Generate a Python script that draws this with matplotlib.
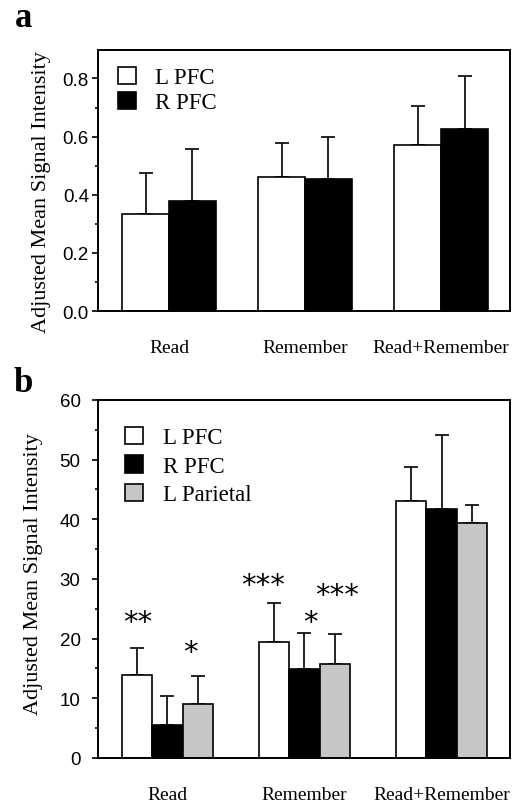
import matplotlib
matplotlib.use("Agg")
import matplotlib.pyplot as plt
import numpy as np
from matplotlib.ticker import MultipleLocator

# panel a
groups = ["Read", "Remember", "Read+Remember"]
a_labels = ["L PFC", "R PFC"]
a_means = [[0.335, 0.46, 0.571], [0.377, 0.454, 0.626]]
a_tops = [[0.475, 0.578, 0.706], [0.558, 0.60, 0.81]]

# panel b
b_labels = ["L PFC", "R PFC", "L Parietal"]
b_means = [[13.9, 19.5, 43.0], [5.6, 14.9, 41.8], [9.0, 15.8, 39.4]]
b_tops = [[18.5, 25.9, 48.8], [10.4, 21.0, 54.1], [13.8, 20.7, 42.4]]
stars = ["**", "*", "***", "*", "***"]
star_x = [-0.215, 0.17, 0.7, 1.04, 1.24]
star_y = [21.4, 16.5, 27.7, 21.4, 25.9]

serif = "Liberation Serif"
sans = "Liberation Sans"
colors_a = ["white", "black"]
colors_b = ["white", "black", "#c6c6c6"]

fig = plt.figure(figsize=(5.18, 8.04), dpi=100)
axa = fig.add_axes([0.1892, 0.6119, 0.7954, 0.3247])
axb = fig.add_axes([0.1892, 0.0560, 0.7954, 0.4453])

x = np.arange(len(groups))

# ---- a ----
w = 0.345
for i in range(2):
    pos = x + (i - 0.5) * w
    m = np.array(a_means[i])
    e = np.array(a_tops[i]) - m
    axa.bar(pos, m, w, color=colors_a[i], edgecolor="black", linewidth=1.2,
            label=a_labels[i], zorder=2)
    axa.errorbar(pos, m, yerr=[np.zeros_like(e), e], fmt="none", ecolor="black",
                 elinewidth=1.2, capsize=5, capthick=1.2, zorder=1)
axa.set_xlim(-0.522, 2.507)
axa.set_ylim(0, 0.898)
axa.yaxis.set_major_locator(MultipleLocator(0.2))
axa.yaxis.set_minor_locator(MultipleLocator(0.1))
axa.yaxis.set_major_formatter(matplotlib.ticker.FormatStrFormatter("%.1f"))
axa.set_yticks([0, 0.2, 0.4, 0.6, 0.8])
axa.set_xticks(x)
axa.set_xticklabels(groups, fontfamily=serif, fontsize=14)
axa.tick_params(axis="x", length=0, pad=20)
axa.tick_params(axis="y", which="major", length=4.5, width=1.2, pad=2, labelsize=13.5)
axa.tick_params(axis="y", which="minor", length=2.5, width=1.2)
for lab in axa.get_yticklabels():
    lab.set_fontfamily(sans)
axa.set_ylabel("Adjusted Mean Signal Intensity", fontfamily=serif, fontsize=16)
axa.yaxis.set_label_coords(-0.114, 0.46)
axa.legend(loc="upper left", bbox_to_anchor=(0.0485, 0.935), frameon=False,
           prop={"family": serif, "size": 16.5}, borderpad=0, borderaxespad=0,
           handlelength=0.78, handleheight=0.75, handletextpad=0.85,
           labelspacing=0.15)

# ---- b ----
w = 0.22
for i in range(3):
    pos = x + (i - 1) * w
    m = np.array(b_means[i])
    e = np.array(b_tops[i]) - m
    axb.bar(pos, m, w, color=colors_b[i], edgecolor="black", linewidth=1.2,
            label=b_labels[i], zorder=2)
    axb.errorbar(pos, m, yerr=[np.zeros_like(e), e], fmt="none", ecolor="black",
                 elinewidth=1.2, capsize=5, capthick=1.2, zorder=1)
for s, sx, sy in zip(stars, star_x, star_y):
    axb.text(sx, sy, s, ha="center", va="baseline", fontsize=21,
             fontfamily="DejaVu Sans")
axb.set_xlim(-0.507, 2.5)
axb.set_ylim(0, 60)
axb.yaxis.set_major_locator(MultipleLocator(10))
axb.yaxis.set_minor_locator(MultipleLocator(5))
axb.set_xticks(x)
axb.set_xticklabels(groups, fontfamily=serif, fontsize=14)
axb.tick_params(axis="x", length=0, pad=20)
axb.tick_params(axis="y", which="major", length=4.5, width=1.2, pad=8, labelsize=13.5)
axb.tick_params(axis="y", which="minor", length=2.5, width=1.2)
for lab in axb.get_yticklabels():
    lab.set_fontfamily(sans)
axb.set_ylabel("Adjusted Mean Signal Intensity", fontfamily=serif, fontsize=16)
axb.yaxis.set_label_coords(-0.133, 0.517)
axb.legend(loc="upper left", bbox_to_anchor=(0.0655, 0.925), frameon=False,
           prop={"family": serif, "size": 16.5}, borderpad=0, borderaxespad=0,
           handlelength=0.8, handleheight=0.78, handletextpad=0.85,
           labelspacing=0.3)

for ax in (axa, axb):
    for sp in ax.spines.values():
        sp.set_linewidth(1.4)

fig.text(15 / 518, 1 - 27 / 804, "a", fontfamily=serif, fontweight="bold",
         fontsize=25, va="baseline")
fig.text(14 / 518, 1 - 392 / 804, "b", fontfamily=serif, fontweight="bold",
         fontsize=25, va="baseline")

fig.savefig("out.png", dpi=100)
